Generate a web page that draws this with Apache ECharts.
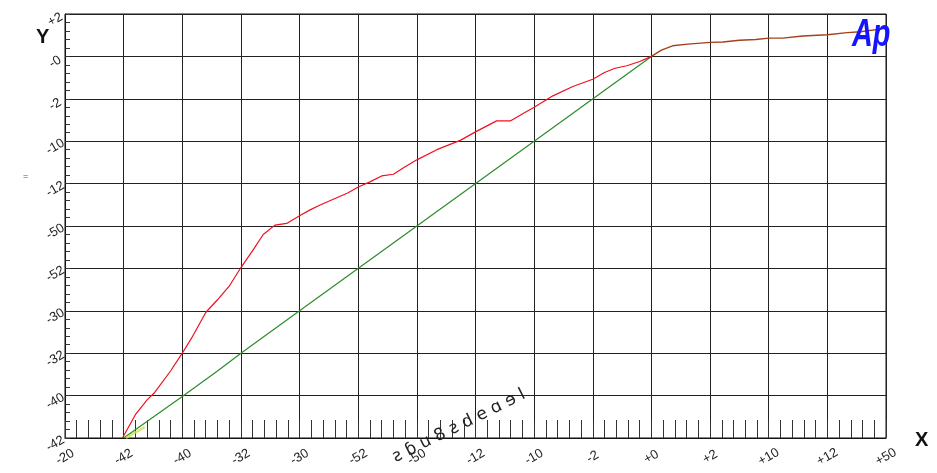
<!DOCTYPE html>
<html>
<head>
<meta charset="utf-8">
<script src="https://cdn.jsdelivr.net/npm/echarts@6/dist/echarts.min.js"></script>
<style>
  html, body { margin: 0; padding: 0; background: #fff; }
  #chart { width: 937px; height: 473px; }
</style>
</head>
<body>
<div id="chart"></div>
<script>
// valeurs
const redX = [-45.1, -44.0, -43.0, -42.4, -41.0, -40.0, -39.2, -38.0, -37.0, -36.0, -35.0, -33.9, -33.1, -32.1, -31.1, -30.0, -29.1, -28.2, -25.9, -25.0, -24.0, -23.0, -22.0, -21.1, -20.0, -18.3, -16.3, -15.0, -13.2, -12.0, -10.9, -10.0, -8.4, -6.7, -5.0, -4.0, -3.1, -2.1, -1.0, 0, 0.85, 1.8, 3.1, 5.0, 6.1, 7.5, 8.9, 10.0, 11.2, 12.9, 15.0, 16.7, 17.8, 20.0];
const redY = [-45, -42.25, -40.5, -39.7, -37.1, -35.0, -33.2, -30.2, -28.7, -27.1, -24.9, -22.7, -21.0, -19.9, -19.7, -18.8, -18.1, -17.5, -16.1, -15.4, -14.8, -14.1, -13.9, -13.1, -12.2, -11.0, -9.9, -8.9, -7.6, -7.6, -6.7, -6.0, -4.65, -3.55, -2.7, -1.9, -1.4, -1.1, -0.6, 0, 0.75, 1.25, 1.45, 1.65, 1.7, 1.9, 2.0, 2.15, 2.15, 2.4, 2.55, 2.8, 2.9, 3.3];

const greenX = [-45, -40, -37, -35, -30, -20, -10, 0];
const greenY = [-45, -40.1, -37.1, -35, -30, -20, -10, 0];

const yellowX = [-44.8, -43.2];
const yellowY = [-45, -43.7];

// libellés des graduations (tels qu'ils apparaissent)
const yTickValues = [5, 0, -5, -10, -15, -20, -25, -30, -35, -40, -45];
const yTickLabels = ['+2', '-0', '-2', '-10', '-12', '-50', '-52', '-30', '-32', '-40', '-42'];
const xTickValues = [-50, -45, -40, -35, -30, -25, -20, -15, -10, -5, 0, 5, 10, 15, 20];
const xTickLabels = ['-20', '-42', '-40', '-32', '-30', '-52', '-50', '-12', '-10', '-2', '+0', '+2', '+10', '+12', '+50'];

const zip = (xs, ys) => xs.map((x, i) => [x, ys[i]]);
const labelFor = (vals, labels) => v => {
    const i = vals.findIndex(t => Math.abs(t - v) < 1e-6);
    return i >= 0 ? labels[i] : '';
};

// partie négative en rouge, partie positive en brun (superposition rouge/vert)
const redAll = zip(redX, redY);
const redNeg = redAll.filter(p => p[0] <= 0);
const redPos = redAll.filter(p => p[0] >= 0);

const chart = echarts.init(document.getElementById('chart'));

const labelFont = { color: '#222', fontSize: 13, fontFamily: 'Arial, "Liberation Sans", sans-serif' };

const option = {
    animation: false,
    backgroundColor: '#fff',
    grid: { left: 65, right: 51, top: 14, bottom: 35, show: true, borderColor: '#111', borderWidth: 1 },
    xAxis: {
        type: 'value', min: -50, max: 20, interval: 5,
        axisLine: { onZero: false, lineStyle: { color: '#111' } },
        axisTick: { inside: true, length: 18, lineStyle: { color: '#333' } },
        minorTick: { show: true, splitNumber: 5, length: 18, lineStyle: { color: '#333' } },
        splitLine: { show: true, lineStyle: { color: '#222', width: 1 } },
        axisLabel: Object.assign({
            formatter: labelFor(xTickValues, xTickLabels),
            rotate: 30, align: 'center', verticalAlign: 'middle', margin: 19
        }, labelFont)
    },
    yAxis: {
        type: 'value', min: -45, max: 5, interval: 5,
        axisLine: { onZero: false, lineStyle: { color: '#111' } },
        axisTick: { inside: true, length: 5, lineStyle: { color: '#333' } },
        minorTick: { show: true, splitNumber: 5, length: 5, lineStyle: { color: '#333' } },
        splitLine: { show: true, lineStyle: { color: '#222', width: 1 } },
        axisLabel: Object.assign({
            formatter: labelFor(yTickValues, yTickLabels),
            rotate: 30, align: 'center', verticalAlign: 'top', margin: 13
        }, labelFont)
    },
    series: [
        {
            type: 'line', data: zip(greenX, greenY), symbol: 'none', z: 2,
            lineStyle: { color: '#2e8b2e', width: 1.2 }
        },
        {
            type: 'line', data: zip(yellowX, yellowY), symbol: 'none', z: 3,
            lineStyle: { color: '#c8e64a', width: 2.5, opacity: 0.8 }
        },
        {
            type: 'line', data: redNeg, symbol: 'none', z: 4,
            lineStyle: { color: '#f01020', width: 1.2 }
        },
        {
            type: 'line', data: redPos, symbol: 'none', z: 4,
            lineStyle: { color: '#a4401c', width: 1.4 }
        }
    ],
    graphic: [
        { type: 'text', left: 36, top: 27, style: { text: 'Y', font: 'bold 20px Arial, "Liberation Sans", sans-serif', fill: '#111' } },
        { type: 'text', left: 915, top: 430, style: { text: 'X', font: 'bold 20px Arial, "Liberation Sans", sans-serif', fill: '#111' } },
        { type: 'text', left: 23, top: 172, style: { text: '=', font: '9px Arial, sans-serif', fill: '#555' } },
        {
            type: 'text', x: 852, y: 16, scaleX: 0.74, z: 10,
            style: { text: 'Ap', font: 'italic bold 39px "Liberation Sans", Arial, sans-serif', fill: '#1414ff' }
        },
        {
            type: 'text', x: 459, y: 426, rotation: 0.46, z: 10,
            style: { text: 'ƨ ɓ u 8 ƨ d e ɑ ɘ l', font: '17px "DejaVu Sans", sans-serif', fill: '#222', align: 'center', verticalAlign: 'middle' }
        }
    ]
};

chart.setOption(option);
window.addEventListener('resize', () => chart.resize());
</script>
</body>
</html>
